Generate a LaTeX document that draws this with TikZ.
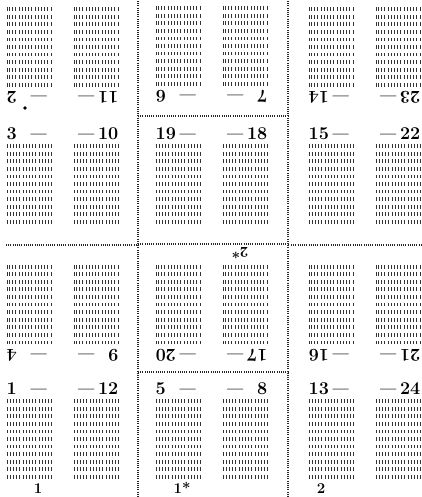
\documentclass[tikz,border=0pt]{standalone}
\usepackage{fontspec}
\setmainfont{Latin Modern Roman}
\usepackage{tikz}
\tikzset{
  ticks/.style={line width=3.8pt, dash pattern=on 0.9pt off 2.3pt, draw=black!80},
  sep/.style={line width=1.1pt, dash pattern=on 1pt off 1.2pt, draw=black!85},
  pnum/.style={font=\fontsize{18}{18}\selectfont\bfseries, inner sep=0pt},
  sig/.style={font=\fontsize{15}{15}\selectfont\bfseries, inner sep=0pt},
}
\newcommand\pdash{\scalebox{0.8}[1]{---}}
\newcommand\imposecell[6]{% name, cx, cy, leftnum, rightnum, angle
  \begin{scope}[shift={(#2,#3)}, rotate=#6, transform shape]
    \foreach \i in {0,...,10} {
      \pgfmathsetmacro\yy{-37.9+\i*7.58}
      \draw[ticks] (-56,\yy) -- (-11,\yy);
      \draw[ticks] (11,\yy) -- (56,\yy);
    }
    \node[pnum, anchor=base west] (#1l) at (-56,-44.5) {\makebox[1.33em][l]{#4}\pdash};
    \node[pnum, anchor=base east] (#1r) at (56,-44.5) {\pdash\makebox[1.33em][r]{#5}};
  \end{scope}}
\begin{document}
\begin{tikzpicture}[x=1pt,y=-1pt]
\fill[white] (0,0) rectangle (421,497);
\useasboundingbox (0,0) rectangle (421,497);
% separators
\draw[sep] (138,1) -- (138,497);
\draw[sep] (288,1) -- (288,497);
\draw[sep] (138,116) -- (288,116);
\draw[sep] (6,245) -- (138,245);
\draw[sep] (138,244) -- (288,244);
\draw[sep] (291,245) -- (421,245);
\draw[sep] (138,372) -- (288,372);
% row 1 (inverted)
\imposecell{a1}{62.5}{47}{11}{2}{180}
\imposecell{b1}{211.5}{46}{7}{6}{180}
\imposecell{c1}{364.5}{47}{23}{14}{180}
% row 2
\imposecell{a2}{62.5}{184}{3}{10}{0}
\imposecell{b2}{211.5}{184}{19}{18}{0}
\imposecell{c2}{364.5}{184}{15}{22}{0}
% row 3 (inverted)
\imposecell{a3}{62.5}{304.5}{9}{4}{180}
\imposecell{b3}{211.5}{304.5}{17}{20}{180}
\imposecell{c3}{364.5}{304.5}{21}{16}{180}
% row 4
\imposecell{a4}{62.5}{439}{1}{12}{0}
\imposecell{b4}{211.5}{439}{5}{8}{0}
\imposecell{c4}{364.5}{439}{13}{24}{0}
% signature marks
\fill (25,108) circle (1.9);
\node[sig, rotate=180] (s2s) at (240,253) {2*};
\node[sig, anchor=base] (s1) at (38,493) {1};
\node[sig, anchor=base] (s1s) at (182,493) {1*};
\node[sig, anchor=base] (s2) at (321,493) {2};
\end{tikzpicture}
\end{document}
